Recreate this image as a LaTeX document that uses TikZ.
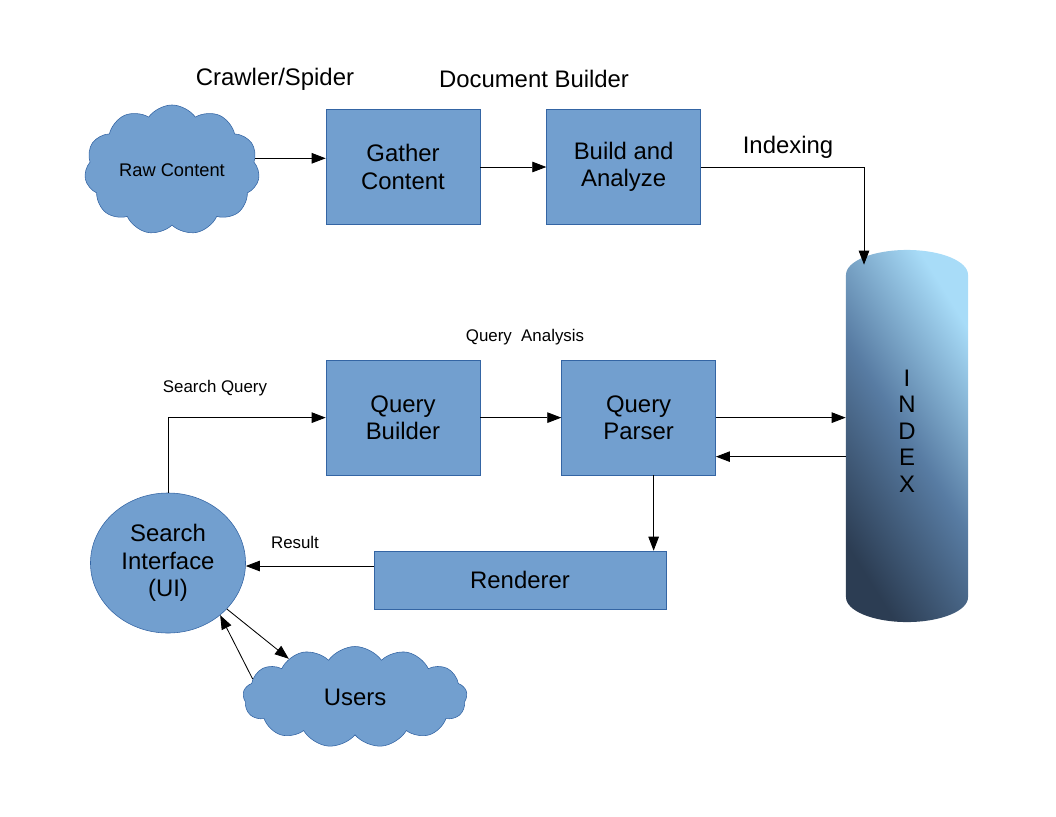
\documentclass[tikz,border=0pt]{standalone}
\usepackage{fontspec}
\setmainfont{Liberation Sans}
\usetikzlibrary{positioning}
\usetikzlibrary{shapes.geometric,shapes.symbols,arrows.meta}

\definecolor{boxblue}{HTML}{729FCF}
\definecolor{boxedge}{HTML}{3465A4}
\definecolor{idxlight}{HTML}{A8DCF8}
\definecolor{idxmid}{HTML}{587CA3}
\definecolor{idxdark}{HTML}{2C3D53}

\newcommand{\boxfont}{\fontsize{17}{19.5}\selectfont}
\newcommand{\notefont}{\fontsize{12}{14}\selectfont}

\tikzset{
  proc/.style={rectangle,fill=boxblue,draw=boxedge,minimum width=3.85cm,minimum height=2.875cm,align=center,font=\boxfont},
  puff/.style={cloud,cloud puffs=11,cloud puff arc=110,cloud ignores aspect,fill=boxblue,draw=boxedge,align=center},
  arr/.style={-{Triangle[length=10pt,width=7.5pt]},line width=0.6pt},
}

\begin{document}
\begin{tikzpicture}[x=0.025cm,y=-0.025cm,node distance=1.65cm]
\useasboundingbox (0,0) rectangle (1056,816);

\node[proc] (gc) at (403,167) {Gather\\Content};
\node[proc,right=of gc] (bld) {Build and\\Analyze};
\node[puff,minimum width=4.375cm,minimum height=3.25cm,font=\fontsize{13}{15}\selectfont] (raw) at (172,170) {Raw Content};

\node[proc,below=3.375cm of gc] (qb) {Query\\Builder};
\node[proc,right=2.025cm of qb] (qp) {Query\\Parser};
\node[proc,minimum width=7.3cm,minimum height=1.45cm] (rend) at (520,580) {Renderer};

\node[ellipse,fill=boxblue,draw=boxedge,minimum width=3.875cm,minimum height=3.5cm,align=center,font=\boxfont] (ui) at (168,563) {Search\\Interface\\(UI)};
\node[puff,cloud puffs=13,minimum width=5.6cm,minimum height=2.525cm,font=\boxfont] (users) at (355,697) {Users};

\node[cylinder,shape border rotate=90,shape aspect=5.3,minimum width=3.05cm,minimum height=9.3cm,
  top color=idxlight,bottom color=idxdark,middle color=idxmid,shading angle=-58,
  anchor=shape center] (idx) at (907,436) {};
\node[align=center,font=\fontsize{17}{18.8}\selectfont] (idxtxt) at (907,431) {I\\N\\D\\E\\X};

\node[font=\boxfont] (crawl) at (275,79) {Crawler/Spider};
\node[font=\boxfont] (docb) at (534,79) {Document Builder};
\node[font=\boxfont] (idxl) at (788,147) {Indexing};
\node[font=\notefont] (qal) at (525,337) {Query\ \ Analysis};
\node[font=\notefont] (sql) at (215,388) {Search Query};
\node[font=\notefont] (resl) at (295,542) {Result};

\coordinate (idxin) at ([xshift=-1.075cm,yshift=-0.375cm]idx.north);
\coordinate (qpback) at ([yshift=-0.975cm]qp.east);
\coordinate (qpdown) at ([xshift=0.375cm]qp.south);
\coordinate (resout) at ([yshift=0.35cm]rend.west);

\draw[arr] (raw.8) -- (raw.8 -| gc.west);
\draw[arr] (gc) -- (bld);
\draw[arr] (bld.east) -| (idxin);

\draw[arr] (ui.north) |- (qb.west);
\draw[arr] (qb) -- (qp);
\draw[arr] (qp.east) -- (qp.east -| idx.west);
\draw[arr] (qpback -| idx.west) -- (qpback);
\draw[arr] (qpdown) -- (qpdown |- rend.north);
\draw[arr] (resout) -- (resout -| ui.east);

\draw[arr] (ui.-38) -- (users.150);
\draw[arr] (users.170) -- (ui.-45);

\end{tikzpicture}
\end{document}
